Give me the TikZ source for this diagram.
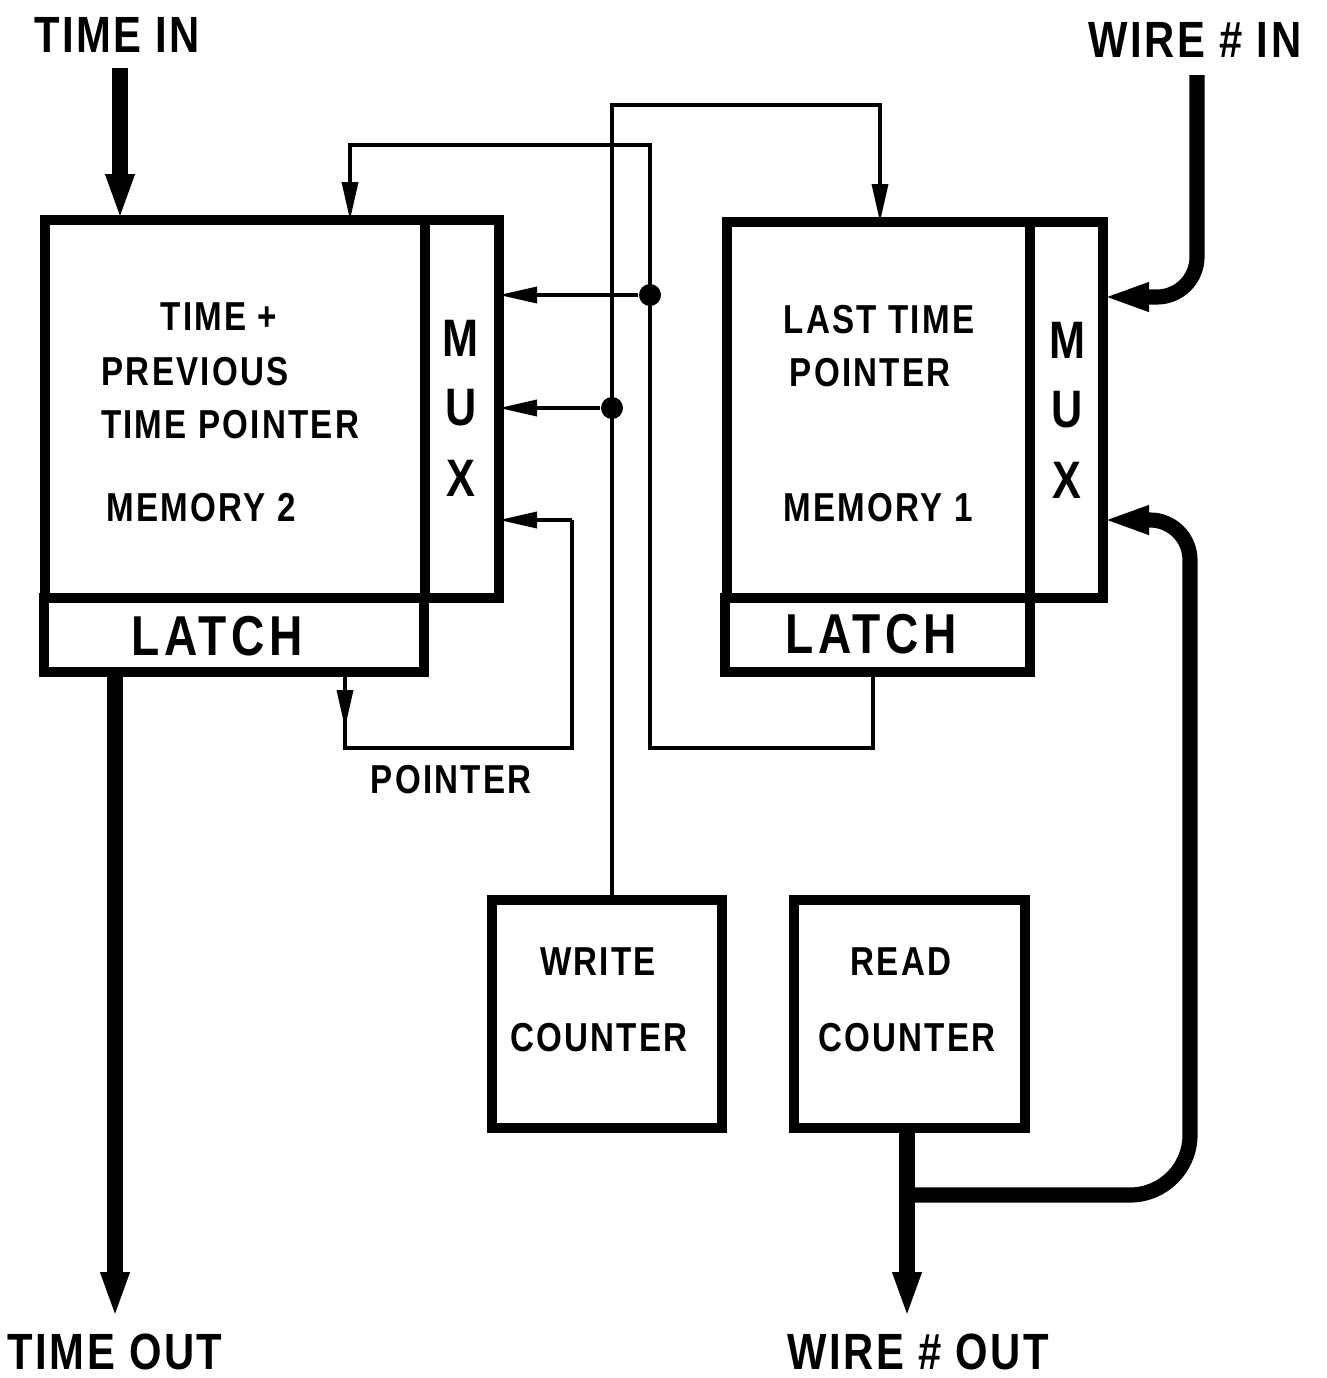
\documentclass[tikz,border=0pt]{standalone}
\usepackage{fontspec}
\setmainfont{Liberation Sans}[FakeStretch=0.82]
\usepackage{tikz}
\usetikzlibrary{arrows.meta,calc}

\begin{document}
\begin{tikzpicture}[x=0.1mm, y=-0.1mm,
    blk/.style={draw, line width=2.6pt, inner sep=0, outer sep=0},
    sig/.style={line width=1pt},
    sigarrow/.style={sig, -{Triangle[length=3.8mm, width=1.6mm]}},
    bus/.style={line width=4.3pt},
    busarrow/.style={bus, -{Triangle[length=4.6mm, width=2.6mm]}},
    dot/.style={circle, fill, inner sep=0, minimum size=2.2mm},
    io/.style={inner sep=0, font=\fontsize{14.5}{16}\selectfont\bfseries\addfontfeature{LetterSpace=5}},
    txt/.style={inner sep=0, font=\fontsize{11.5}{13}\selectfont\bfseries\addfontfeature{LetterSpace=5.5}},
    muxtxt/.style={inner sep=0, font=\fontsize{15}{17}\selectfont\bfseries},
    latchtxt/.style={inner sep=0, font=\fontsize{16}{18}\selectfont\bfseries\addfontfeature{LetterSpace=8}}]
  \useasboundingbox (0,0) rectangle (1327,1378);

  % memory 2 with its mux and latch
  \node[blk, minimum width=38mm, minimum height=37.8mm] (mem2) at (235,409) {};
  \node[blk, minimum width=7.4mm, minimum height=37.8mm] (mux2) at (462,409) {};
  \node[blk, minimum width=38mm, minimum height=7.4mm] (latch2) at (234,635) {};
  \node[txt] (m2a) at (219,317) {TIME +};
  \node[txt] (m2b) at (195,372) {PREVIOUS};
  \node[txt] (m2c) at (230,425) {TIME POINTER};
  \node[txt] (m2d) at (201,508) {MEMORY 2};
  \node[muxtxt] (mx2a) at (461,338) {M};
  \node[muxtxt] (mx2b) at (461,408) {U};
  \node[muxtxt] (mx2c) at (461,478) {X};
  \node[latchtxt] (lt2) at (217,636) {LATCH};

  % memory 1 with its mux and latch
  \node[blk, minimum width=30.3mm, minimum height=37.6mm] (mem1) at (878.5,410) {};
  \node[blk, minimum width=7.3mm, minimum height=37.6mm] (mux1) at (1066.5,410) {};
  \node[blk, minimum width=30.5mm, minimum height=7.4mm] (latch1) at (877.5,635) {};
  \node[txt] (m1a) at (879,320) {LAST TIME};
  \node[txt] (m1b) at (870,373) {POINTER};
  \node[txt] (m1c) at (878,508) {MEMORY 1};
  \node[muxtxt] (mx1a) at (1067,340) {M};
  \node[muxtxt] (mx1b) at (1067,410) {U};
  \node[muxtxt] (mx1c) at (1067,480) {X};
  \node[latchtxt] (lt1) at (871,634) {LATCH};

  % counters
  \node[blk, minimum width=23mm, minimum height=22.8mm] (wcnt) at (607,1014) {};
  \node[txt] (wa) at (598,962) {WRITE};
  \node[txt] (wb) at (599,1038) {COUNTER};
  \node[blk, minimum width=23.1mm, minimum height=22.8mm] (rcnt) at (909.5,1014) {};
  \node[txt] (ra) at (901,962) {READ};
  \node[txt] (rb) at (907,1038) {COUNTER};

  % inputs and outputs
  \node[io] (tin) at (117,35) {TIME IN};
  \node[io] (win) at (1195,40) {WIRE \# IN};
  \node[io] (tout) at (115,1352) {TIME OUT};
  \node[io] (wout) at (918,1352) {WIRE \# OUT};
  \node[txt] (ptr) at (451,780) {POINTER};

  \coordinate (tinTop) at (120,68);
  \coordinate (winTop) at (1197,75);
  \coordinate (winC) at (1197,297);
  \coordinate (toutEnd) at (115,1318);
  \coordinate (woutEnd) at (907,1318);
  \coordinate (fb) at (1190,1195);
  \coordinate (fbTop) at (1190,520);

  \draw[busarrow] (tinTop) -- (tinTop |- mem2.north);
  \draw[busarrow, rounded corners=4mm] (winTop) -- (winC) -- (winC -| mux1.east);
  \draw[busarrow] (latch2.south -| toutEnd) -- (toutEnd);
  \draw[busarrow] (rcnt.south -| woutEnd) -- (woutEnd);
  \draw[busarrow] (woutEnd |- fb) [rounded corners=6mm] -- (fb)
        [rounded corners=4mm] -- (fbTop) -- (fbTop -| mux1.east);

  % write counter address lines
  \node[dot] (jw) at (612,408) {};
  \coordinate (wtop) at (880,105);
  \draw[sigarrow] (wcnt.north -| jw) -- (jw.center) |- (wtop) -- (wtop |- mem1.north);
  \draw[sigarrow] (jw) -- (jw -| mux2.east);

  % last time pointer lines
  \node[dot] (jl) at (650,295) {};
  \coordinate (b1) at (873,748);
  \coordinate (b2) at (650,145);
  \coordinate (b3) at (350,145);
  \draw[sigarrow] (latch1.south -| b1) -- (b1) -| (b2) -| (mem2.north -| b3);
  \draw[sigarrow] (jl) -- (jl -| mux2.east);

  % pointer loop
  \coordinate (p1) at (345,748);
  \coordinate (p2) at (572,520);
  \coordinate (pm) at (345,728);
  \draw[sig] (latch2.south -| p1) -- (p1) -| (p2);
  \draw[sigarrow] (p2) -- (p2 -| mux2.east);
  \draw[sigarrow] (latch2.south -| pm) -- (pm);
\end{tikzpicture}
\end{document}
